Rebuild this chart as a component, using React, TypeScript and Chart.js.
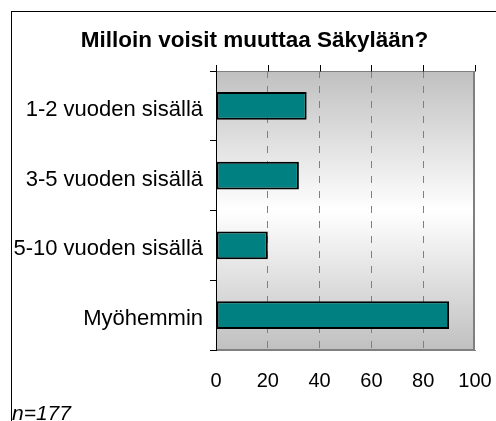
import React, { useEffect, useRef } from "react";
import { Chart, registerables } from "chart.js";

Chart.register(...registerables);

const TITLE = "Milloin voisit muuttaa Säkylään?";
const CATEGORIES = ["1-2 vuoden sisällä", "3-5 vuoden sisällä", "5-10 vuoden sisällä", "Myöhemmin"];
const VALUES = [35, 32, 20, 90];
const X_MIN = 0;
const X_MAX = 100;
const X_STEP = 20;
const NOTE = "n=177";

const FONT = "'Liberation Sans', Arial, sans-serif";

export default function App() {
  const ref = useRef<HTMLCanvasElement>(null);

  useEffect(() => {
    const canvas = ref.current!;
    const decor = {
      id: "decor",
      beforeDraw(chart: any) {
        const { ctx, chartArea: a } = chart;
        ctx.save();
        ctx.fillStyle = "#ffffff";
        ctx.fillRect(0, 0, chart.width, chart.height);
        const g = ctx.createLinearGradient(0, a.top, 0, a.bottom);
        g.addColorStop(0, "#c0c0c0");
        g.addColorStop(0.5, "#ffffff");
        g.addColorStop(1, "#c0c0c0");
        ctx.fillStyle = g;
        ctx.fillRect(a.left, a.top, a.right - a.left, a.bottom - a.top);
        ctx.restore();
      },
      afterDatasetsDraw(chart: any) {
        const { ctx, chartArea: a } = chart;
        const xs = chart.scales.x;
        ctx.save();
        ctx.strokeStyle = "#808080";
        ctx.lineWidth = 1;
        ctx.beginPath();
        ctx.moveTo(a.left, Math.round(a.top) + 0.5);
        ctx.lineTo(a.right, Math.round(a.top) + 0.5);
        ctx.stroke();
        ctx.lineWidth = 2;
        ctx.beginPath();
        ctx.moveTo(Math.round(a.right) - 1, a.top);
        ctx.lineTo(Math.round(a.right) - 1, a.bottom + 1);
        ctx.stroke();
        ctx.beginPath();
        ctx.moveTo(a.left, Math.round(a.bottom));
        ctx.lineTo(a.right, Math.round(a.bottom));
        ctx.stroke();
        ctx.strokeStyle = "#000000";
        ctx.lineWidth = 1;
        for (const t of xs.ticks) {
          const x = Math.round(xs.getPixelForValue(t.value)) + 0.5;
          ctx.beginPath();
          ctx.moveTo(x, Math.round(a.top) + 0.5);
          ctx.lineTo(x, Math.round(a.top) - 6);
          ctx.stroke();
        }
        const lx = Math.round(a.left) + 0.5;
        ctx.beginPath();
        ctx.moveTo(lx, a.top - 6);
        ctx.lineTo(lx, a.bottom + 1);
        ctx.stroke();
        ctx.restore();
      },
      afterDraw(chart: any) {
        const { ctx } = chart;
        ctx.save();
        ctx.strokeStyle = "#000000";
        ctx.lineWidth = 1;
        ctx.strokeRect(11.5, 11.5, 700, 700);
        ctx.fillStyle = "#000000";
        ctx.font = `bold 22.5px ${FONT}`;
        ctx.textAlign = "center";
        ctx.textBaseline = "alphabetic";
        ctx.fillText(TITLE, 254.5, 46.5);
        ctx.font = `italic 21px ${FONT}`;
        ctx.textAlign = "left";
        ctx.fillText(NOTE, 12, 420);
        ctx.restore();
      },
    };

    const chart = new Chart(canvas, {
      type: "bar",
      data: {
        labels: CATEGORIES,
        datasets: [
          {
            data: VALUES,
            backgroundColor: "#008080",
            borderColor: "#000000",
            borderWidth: 2,
            borderSkipped: false,
            barPercentage: 0.4,
            categoryPercentage: 1,
          },
        ],
      },
      options: {
        indexAxis: "y",
        responsive: false,
        animation: false,
        devicePixelRatio: 1,
        layout: { padding: { top: 71, left: 0, right: 21, bottom: 0 } },
        plugins: {
          legend: { display: false },
          title: { display: false },
          tooltip: { enabled: false },
        },
        scales: {
          x: {
            type: "linear",
            position: "bottom",
            min: X_MIN,
            max: X_MAX,
            ticks: {
              stepSize: X_STEP,
              color: "#000000",
              font: { family: FONT, size: 20 },
              padding: 19,
              maxRotation: 0,
            },
            grid: {
              drawTicks: false,
              color: (c: any) =>
                c.tick && (c.tick.value === X_MIN || c.tick.value === X_MAX) ? "rgba(0,0,0,0)" : "#808080",
              lineWidth: 1,
            },
            border: { display: true, color: "#808080", width: 1, dash: [7, 8] },
            afterFit: (s: any) => {
              s.height = 71;
              s.paddingLeft = 0;
              s.paddingRight = 0;
            },
          },
          y: {
            type: "category",
            position: "left",
            ticks: {
              color: "#000000",
              font: { family: FONT, size: 22 },
              padding: 7,
              labelOffset: 4,
            },
            grid: {
              offset: true,
              drawOnChartArea: false,
              drawTicks: true,
              tickLength: 6,
              color: "#000000",
            },
            border: { display: true, color: "#000000", width: 1 },
            afterFit: (s: any) => {
              s.width = 216;
              s.paddingTop = 0;
              s.paddingBottom = 0;
            },
          },
        },
      },
      plugins: [decor],
    });
    return () => chart.destroy();
  }, []);

  return (
    <div style={{ position: "fixed", left: 0, top: 0, width: 496, height: 421, overflow: "hidden" }}>
      <canvas ref={ref} width={496} height={421} style={{ display: "block" }} />
    </div>
  );
}
